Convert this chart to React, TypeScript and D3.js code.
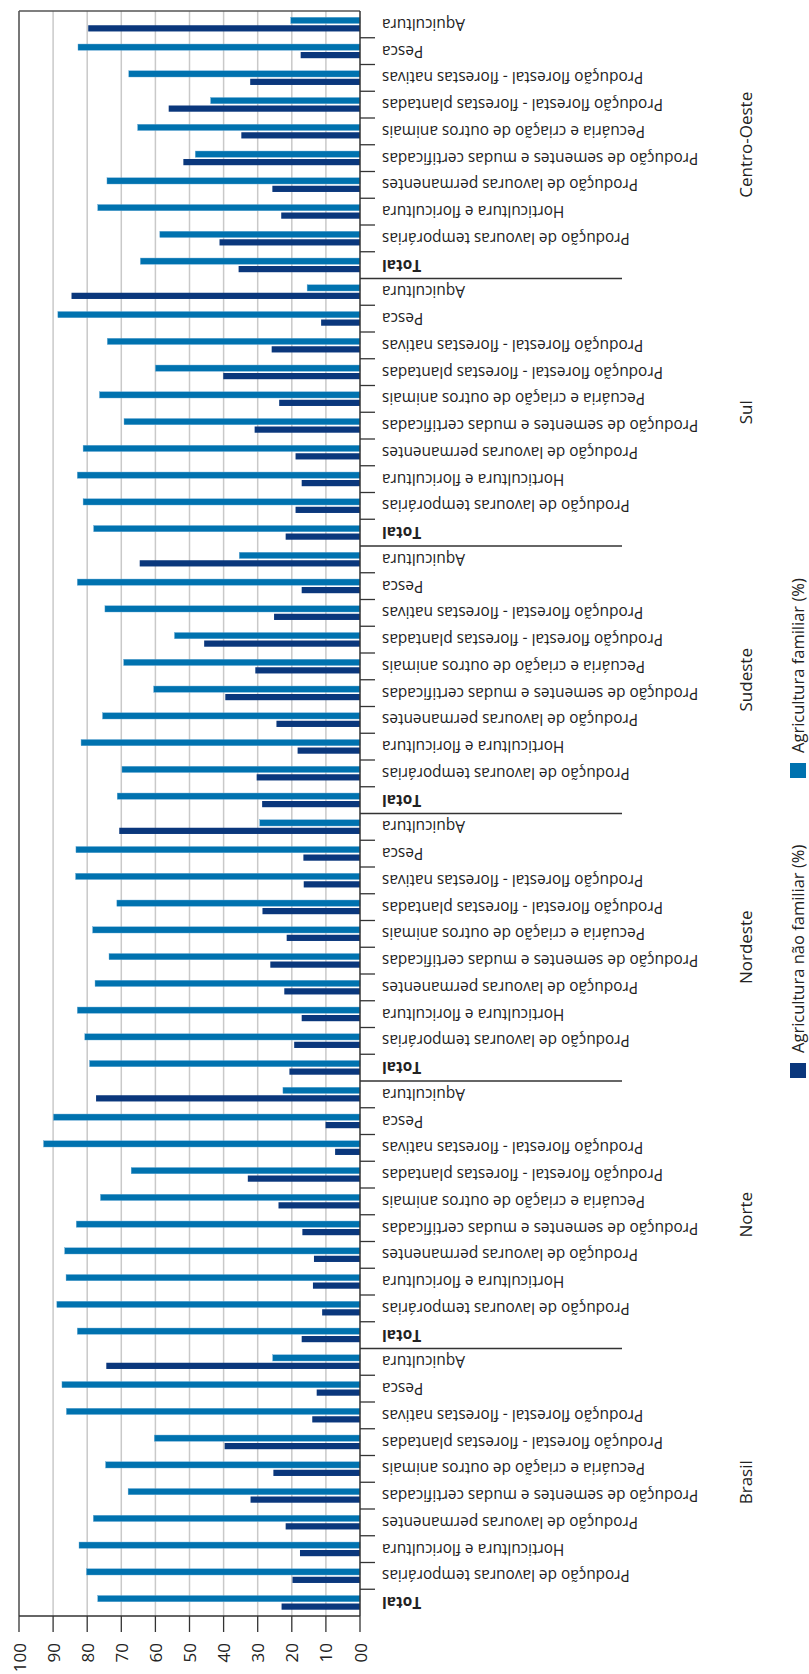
import React from "react";
import * as d3 from "d3";

const regions = ["Brasil", "Norte", "Nordeste", "Sudeste", "Sul", "Centro-Oeste"];
const categories = [
  "Total",
  "Produção de lavouras temporárias",
  "Horticultura e floricultura",
  "Produção de lavouras permanentes",
  "Produção de sementes e mudas certificadas",
  "Pecuária e criação de outros animais",
  "Produção florestal - florestas plantadas",
  "Produção florestal - florestas nativas",
  "Pesca",
  "Aquicultura",
];

// Agricultura familiar (%)
const familiarBrasil = [76.9, 80.2, 82.4, 78.2, 68.0, 74.6, 60.3, 86.1, 87.4, 25.6];
const familiarNorte = [82.9, 88.9, 86.2, 86.6, 83.2, 76.1, 67.1, 92.8, 89.9, 22.6];
const familiarNordeste = [79.3, 80.7, 82.9, 77.7, 73.6, 78.4, 71.3, 83.4, 83.3, 29.4];
const familiarSudeste = [71.2, 69.8, 81.8, 75.5, 60.5, 69.3, 54.4, 74.8, 82.9, 35.4];
const familiarSul = [78.1, 81.2, 82.9, 81.2, 69.2, 76.4, 60.0, 74.1, 88.6, 15.5];
const familiarCentroOeste = [64.4, 58.7, 76.9, 74.2, 48.3, 65.2, 43.8, 67.8, 82.7, 20.3];

// Agricultura não familiar (%)
const naoFamiliarBrasil = [23.0, 19.8, 17.6, 21.8, 32.1, 25.4, 39.7, 14.0, 12.7, 74.4];
const naoFamiliarNorte = [17.1, 11.1, 13.8, 13.5, 16.9, 23.9, 32.9, 7.3, 10.1, 77.4];
const naoFamiliarNordeste = [20.7, 19.3, 17.1, 22.2, 26.3, 21.5, 28.6, 16.5, 16.6, 70.6];
const naoFamiliarSudeste = [28.7, 30.3, 18.3, 24.5, 39.5, 30.7, 45.7, 25.2, 17.1, 64.6];
const naoFamiliarSul = [21.8, 18.9, 17.1, 18.9, 30.9, 23.7, 40.1, 25.9, 11.4, 84.6];
const naoFamiliarCentroOeste = [35.6, 41.2, 23.1, 25.7, 51.8, 34.8, 56.1, 32.2, 17.4, 79.7];

const familiarByRegion = [familiarBrasil, familiarNorte, familiarNordeste, familiarSudeste, familiarSul, familiarCentroOeste];
const naoFamiliarByRegion = [naoFamiliarBrasil, naoFamiliarNorte, naoFamiliarNordeste, naoFamiliarSudeste, naoFamiliarSul, naoFamiliarCentroOeste];

const tickValues = [0, 10, 20, 30, 40, 50, 60, 70, 80, 90, 100];
const tickLabels = ["00", "10", "20", "30", "40", "50", "60", "70", "80", "90", "100"];
const seriesKeys = ["familiar", "naoFamiliar"];
const legendLabels = ["Agricultura não familiar (%)", "Agricultura familiar (%)"];

const BLUE = "#0072af";
const DARK = "#0a377c";
const FONT = "'Open Sans', 'Noto Sans', sans-serif";

type Row = { key: string; region: number; cat: number; familiar: number; naoFamiliar: number };

const rows: Row[] = [];
regions.forEach((r, ri) => {
  categories.forEach((c, ci) => {
    rows.push({
      key: `${ri}-${ci}`,
      region: ri,
      cat: ci,
      familiar: familiarByRegion[ri][ci],
      naoFamiliar: naoFamiliarByRegion[ri][ci],
    });
  });
});

export default function App() {
  const W = 809;
  const H = 1674;
  const top = 11;
  const bottom = 1616;
  const axisX = 360;
  const leftX = 19;

  const x = d3.scaleLinear().domain([0, 100]).range([axisX, leftX]);
  const y = d3
    .scaleBand<string>()
    .domain(rows.map((r) => r.key))
    .range([bottom, top])
    .paddingInner(0.47)
    .paddingOuter(0.235);
  const inner = d3.scaleBand<string>().domain(seriesKeys).range([0, y.bandwidth()]).paddingInner(0.22);
  const slot = d3.scaleLinear().domain([0, rows.length]).range([bottom, top]);
  const n = rows.length;
  const perRegion = categories.length;

  return (
    <svg
      width={W}
      height={H}
      style={{ position: "absolute", left: 0, top: 0, background: "#fff" }}
      fontFamily={FONT}
    >
      {/* gridlines */}
      {tickValues
        .filter((v) => v > 0 && v < 100)
        .map((v) => (
          <line key={"g" + v} x1={x(v)} x2={x(v)} y1={top} y2={bottom} stroke="#c9c9c9" strokeWidth={1.5} />
        ))}
      {/* frame */}
      <line x1={x(100)} x2={x(100)} y1={top} y2={bottom} stroke="#555" strokeWidth={1.6} />
      <line x1={x(100)} x2={axisX} y1={top} y2={top} stroke="#555" strokeWidth={1.6} />

      {/* bars */}
      {rows.map((r) => {
        const y0 = y(r.key)!;
        return (
          <g key={r.key}>
            <rect
              x={x(r.familiar)}
              y={y0 + inner("familiar")!}
              width={x(0) - x(r.familiar)}
              height={inner.bandwidth()}
              fill={BLUE}
              stroke="#5fa6d2"
              strokeWidth={0.4}
            />
            <rect
              x={x(r.naoFamiliar)}
              y={y0 + inner("naoFamiliar")!}
              width={x(0) - x(r.naoFamiliar)}
              height={inner.bandwidth()}
              fill={DARK}
            />
          </g>
        );
      })}

      {/* category axis */}
      <line x1={axisX} x2={axisX} y1={top} y2={bottom} stroke="#333" strokeWidth={1.5} />
      {d3.range(1, n).map((i) =>
        i % perRegion === 0 ? (
          <line key={"s" + i} x1={axisX} x2={622} y1={slot(i)} y2={slot(i)} stroke="#333" strokeWidth={1.3} />
        ) : (
          <line key={"t" + i} x1={axisX} x2={375} y1={slot(i)} y2={slot(i)} stroke="#333" strokeWidth={1.3} />
        )
      )}
      {rows.map((r) => {
        const cy = y(r.key)! + y.bandwidth() / 2;
        return (
          <text
            key={"l" + r.key}
            transform={`translate(382,${cy}) rotate(180)`}
            textAnchor="end"
            dominantBaseline="central"
            fontSize={15.4}
            fontWeight={r.cat === 0 ? 700 : 400}
            fill="#222"
          >
            {categories[r.cat]}
          </text>
        );
      })}

      {/* region labels */}
      {regions.map((reg, ri) => {
        const cy = (slot(ri * perRegion) + slot((ri + 1) * perRegion)) / 2;
        return (
          <text
            key={"r" + reg}
            transform={`translate(745,${cy}) rotate(-90)`}
            textAnchor="middle"
            dominantBaseline="central"
            fontSize={17}
            fill="#222"
          >
            {reg}
          </text>
        );
      })}

      {/* value axis */}
      <line x1={leftX} x2={axisX} y1={bottom} y2={bottom} stroke="#333" strokeWidth={1.5} />
      {tickValues.map((v, i) => (
        <g key={"vt" + v}>
          <line x1={x(v)} x2={x(v)} y1={bottom} y2={bottom + 16} stroke="#333" strokeWidth={1.3} />
          <text
            transform={`translate(${x(v)},${bottom + 27}) rotate(-90)`}
            textAnchor="end"
            dominantBaseline="central"
            fontSize={17}
            fill="#222"
          >
            {tickLabels[i]}
          </text>
        </g>
      ))}

      {/* legend */}
      {[
        { label: legendLabels[0], color: DARK, yStart: 1078 },
        { label: legendLabels[1], color: BLUE, yStart: 778 },
      ].map((l) => (
        <g key={l.label}>
          <rect x={790} y={l.yStart - 15} width={16} height={15} fill={l.color} />
          <text
            transform={`translate(797,${l.yStart - 25}) rotate(-90)`}
            textAnchor="start"
            dominantBaseline="central"
            fontSize={16.5}
            fill="#222"
          >
            {l.label}
          </text>
        </g>
      ))}
    </svg>
  );
}
